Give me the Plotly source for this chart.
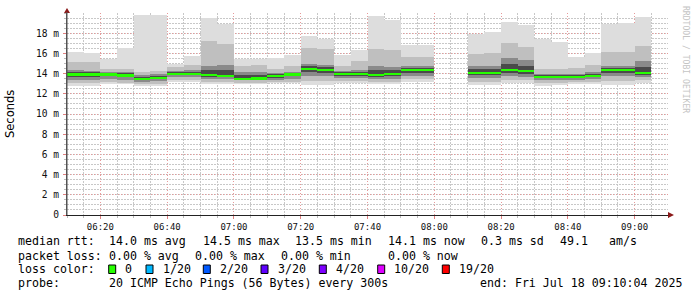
import plotly.graph_objects as go
import pandas as pd

# ---- data (ms) per 5-minute step, 06:10 .. 09:05 ----
step_start = ["06:10", "06:15", "06:20", "06:25", "06:30", "06:35", "06:40", "06:45",
              "06:50", "06:55", "07:00", "07:05", "07:10", "07:15", "07:20", "07:25",
              "07:30", "07:35", "07:40", "07:45", "07:50", "07:55", "08:00", "08:05",
              "08:10", "08:15", "08:20", "08:25", "08:30", "08:35", "08:40", "08:45",
              "08:50", "08:55", "09:00", "09:05"]
N = None
p_max = [16.1, 16.0, 15.45, 16.5, 19.8, 19.8, 15.0, 15.7, 19.5, 18.9, 15.4, 15.45,
         15.5, 15.85, 17.7, 17.45, 15.85, 16.3, 19.7, 19.3, 16.8, 16.8, N, N,
         17.9, 18.1, 19.1, 18.8, 17.45, 17.1, 15.6, 16.0, 18.9, 19.0, 19.6, N]
p_hi2 = [15.1, 15.1, 14.5, 14.5, 14.2, 14.3, 14.7, 14.9, 17.2, 16.9, 14.8, 14.9,
         14.5, 14.8, 16.5, 16.4, 14.8, 15.2, 16.4, 16.3, 15.6, 15.6, N, N,
         15.9, 16.0, 17.0, 16.6, 14.5, 14.5, 14.6, 14.9, 16.1, 16.1, 16.7, N]
p_hi1 = [14.35, 14.3, 14.2, 14.2, 13.9, 14.0, 14.25, 14.4, 14.8, 14.9, 14.2, 14.2,
         14.1, 14.2, 15.0, 14.9, 14.3, 14.4, 14.8, 14.7, 14.8, 14.8, N, N,
         14.8, 14.8, 15.5, 15.3, 14.0, 14.0, 14.0, 14.2, 14.8, 14.8, 15.2, N]
median = [13.93, 13.93, 13.93, 13.83, 13.5, 13.6, 14.0, 14.0, 13.86, 13.8, 13.47, 13.55,
          13.76, 13.93, 14.5, 14.4, 14.0, 14.0, 13.86, 14.0, 14.35, 14.35, N, N,
          14.1, 14.1, 14.35, 14.25, 13.7, 13.67, 13.67, 13.76, 14.35, 14.35, 14.1, N]
p_lo1 = [13.4, 13.4, 13.5, 13.4, 13.2, 13.3, 13.7, 13.7, 13.5, 13.5, 13.35, 13.35,
         13.4, 13.5, 13.8, 13.8, 13.6, 13.6, 13.5, 13.5, 13.8, 13.8, N, N,
         13.6, 13.6, 13.8, 13.7, 13.4, 13.4, 13.4, 13.5, 13.8, 13.8, 13.7, N]
p_lo2 = [13.05, 13.05, 13.2, 13.1, 13.0, 13.0, 13.4, 13.4, 13.2, 13.2, 13.1, 13.1,
         13.2, 13.2, 13.3, 13.3, 13.3, 13.3, 13.2, 13.2, 13.5, 13.5, N, N,
         13.2, 13.2, 13.4, 13.4, 13.1, 13.1, 13.2, 13.2, 13.3, 13.3, 13.4, N]
p_min = [12.8, 12.8, 13.0, 13.0, 12.8, 12.8, 13.2, 13.2, 13.0, 13.0, 13.0, 13.0,
         13.1, 13.1, 12.9, 12.9, 13.1, 13.1, 13.0, 13.0, 13.2, 13.2, N, N,
         12.9, 12.9, 13.1, 13.1, 12.8, 12.9, 13.0, 13.0, 12.9, 12.9, 13.1, N]

ytick_vals = [0, 2, 4, 6, 8, 10, 12, 14, 16, 18]
ytick_text = ["0", "2 m", "4 m", "6 m", "8 m", "10 m", "12 m", "14 m", "16 m", "18 m"]

loss_labels = ["0", "1/20", "2/20", "3/20", "4/20", "10/20", "19/20"]
loss_colors = ["#26ff00", "#00b8ff", "#0059ff", "#5e00ff", "#7e00ff", "#dd00ff", "#ff0000"]

day = "2025-07-18 "
starts = pd.to_datetime([day + s for s in step_start])
centers = starts + pd.Timedelta(seconds=150)
STEP_MS = 300000

def band(lo, hi):
    base, h = [], []
    for a, b in zip(lo, hi):
        if a is None or b is None:
            base.append(None); h.append(None)
        else:
            base.append(a); h.append(b - a)
    return base, h

fig = go.Figure()
layers = [(p_min, p_max, "#dddddd"), (p_lo2, p_hi2, "#bfbfbf"),
          (p_lo1, p_hi1, "#8a8a8a")]
for lo, hi, col in layers:
    b, h = band(lo, hi)
    fig.add_trace(go.Bar(x=centers, y=h, base=b, width=STEP_MS, marker_color=col,
                         marker_line_width=0, showlegend=False, hoverinfo="skip"))
# inner dark core around the median
core_lo = [None if m is None else (m + l) / 2 for m, l in zip(median, p_lo1)]
core_hi = [None if m is None else (m + h) / 2 for m, h in zip(median, p_hi1)]
b, h = band(core_lo, core_hi)
fig.add_trace(go.Bar(x=centers, y=h, base=b, width=STEP_MS, marker_color="#4a4a4a",
                     marker_line_width=0, showlegend=False, hoverinfo="skip"))
# median line (loss colour 0)
mb = [None if m is None else m - 0.09 for m in median]
mh = [None if m is None else 0.19 for m in median]
fig.add_trace(go.Bar(x=centers, y=mh, base=mb, width=STEP_MS, marker_color=loss_colors[0],
                     marker_line_width=0, showlegend=False, hoverinfo="skip"))

L, R, T, B = 67, 29, 13, 82
W, H = 697, 297
PW, PH = W - L - R, H - T - B
def px(x): return (x - L) / PW
def py(y): return (T + PH - y) / PH

mono = "DejaVu Sans Mono"
fig.update_layout(
    width=W, height=H, margin=dict(l=L, r=R, t=T, b=B, pad=0),
    paper_bgcolor="white", plot_bgcolor="white",
    barmode="overlay", bargap=0, showlegend=False,
    font=dict(family=mono, size=9, color="#000000"),
)
fig.update_xaxes(
    type="date", range=[day + "06:10", day + "09:10"],
    dtick=20 * 60 * 1000, tick0=day + "06:00", tickformat="%H:%M",
    showgrid=True, gridcolor="#e69a9a", griddash="1px,2px", gridwidth=1,
    minor=dict(dtick=5 * 60 * 1000, tick0=day + "06:00", showgrid=True,
               gridcolor="#c8c8c8", griddash="2px,1px", gridwidth=1,
               ticks="outside", ticklen=2, tickcolor="#bbbbbb"),
    showline=True, linecolor="#222222", linewidth=1,
    ticks="outside", ticklen=3, tickcolor="#e08080",
    tickfont=dict(family=mono, size=9, color="#111111"),
    zeroline=False, fixedrange=True,
)
fig.update_yaxes(
    range=[0, 20], tickmode="array", tickvals=ytick_vals, ticktext=ytick_text,
    showgrid=True, gridcolor="#e69a9a", griddash="1px,2px", gridwidth=1,
    minor=dict(tickmode="linear", dtick=0.5, tick0=0, showgrid=True,
               gridcolor="#c8c8c8", griddash="2px,1px", gridwidth=1,
               ticks="outside", ticklen=2, tickcolor="#bbbbbb"),
    showline=True, linecolor="#555555", linewidth=1,
    ticks="outside", ticklen=3, tickcolor="#e08080",
    tickfont=dict(family=mono, size=9.6, color="#111111"),
    ticklabelstandoff=2,
    zeroline=False, fixedrange=True,
)

shapes = []
# axis arrows
shapes.append(dict(type="path", xref="paper", yref="paper",
                   path=f"M {px(64)} {py(13)} L {px(70)} {py(13)} L {px(67)} {py(8)} Z",
                   fillcolor="#8b1a1a", line=dict(width=0)))
shapes.append(dict(type="line", xref="paper", yref="paper", x0=px(67), x1=px(67),
                   y0=py(215), y1=py(12), line=dict(color="#555555", width=1)))
shapes.append(dict(type="path", xref="paper", yref="paper",
                   path=f"M {px(668)} {py(212)} L {px(668)} {py(218)} L {px(674)} {py(215)} Z",
                   fillcolor="#8b1a1a", line=dict(width=0)))

ann = []
def txt(x, y, s, size=11.6, family=mono, color="#000000", **kw):
    ann.append(dict(x=px(x), y=py(y), xref="paper", yref="paper", text=s, showarrow=False,
                    xanchor="left", yanchor="middle", font=dict(family=family, size=size, color=color), **kw))

# y title
ann.append(dict(x=px(10), y=py(114), xref="paper", yref="paper", text="Seconds", showarrow=False,
                textangle=-90, xanchor="center", yanchor="middle",
                font=dict(family="DejaVu Sans", size=11.5, color="#000000")))
# watermark
ann.append(dict(x=px(686), y=py(59), xref="paper", yref="paper", text="RRDTOOL / TOBI OETIKER",
                showarrow=False, textangle=90, xanchor="center", yanchor="middle",
                font=dict(family=mono, size=8.1, color="#c4c4c4")))

y1, y2, y3, y4 = 241.5, 255.5, 269, 283
txt(16, y1, "median rtt:")
for x, s in [(107, "14.0 ms avg"), (200.7, "14.5 ms max"), (292.7, "13.5 ms min"),
             (386, "14.1 ms now"), (479, "0.3 ms sd"), (558, "49.1"), (607, "am/s")]:
    txt(x, y1, s)
txt(16, y2, "packet loss:")
for x, s in [(107, "0.00 % avg"), (193.3, "0.00 % max"), (279.3, "0.00 % min"), (386, "0.00 % now")]:
    txt(x, y2, s)
txt(16, y3, "loss color:")
box_x = [108.7, 146, 203.3, 261, 319.3, 377.7, 442.3]
lab_x = [123.3, 160.7, 218, 276, 334, 391.7, 456.7]
for bx, lx, lab, col in zip(box_x, lab_x, loss_labels, loss_colors):
    shapes.append(dict(type="rect", xref="paper", yref="paper", x0=px(bx), x1=px(bx + 7),
                       y0=py(y3 + 4.5), y1=py(y3 - 4), fillcolor=col,
                       line=dict(color="#000000", width=1)))
    txt(lx, y3, lab)
txt(16, y4, "probe:")
txt(107.3, y4, "20 ICMP Echo Pings (56 Bytes) every 300s")
txt(478.3, y4, "end: Fri Jul 18 09:10:04 2025")

fig.update_layout(shapes=shapes, annotations=ann)
fig.write_html("out.html")
